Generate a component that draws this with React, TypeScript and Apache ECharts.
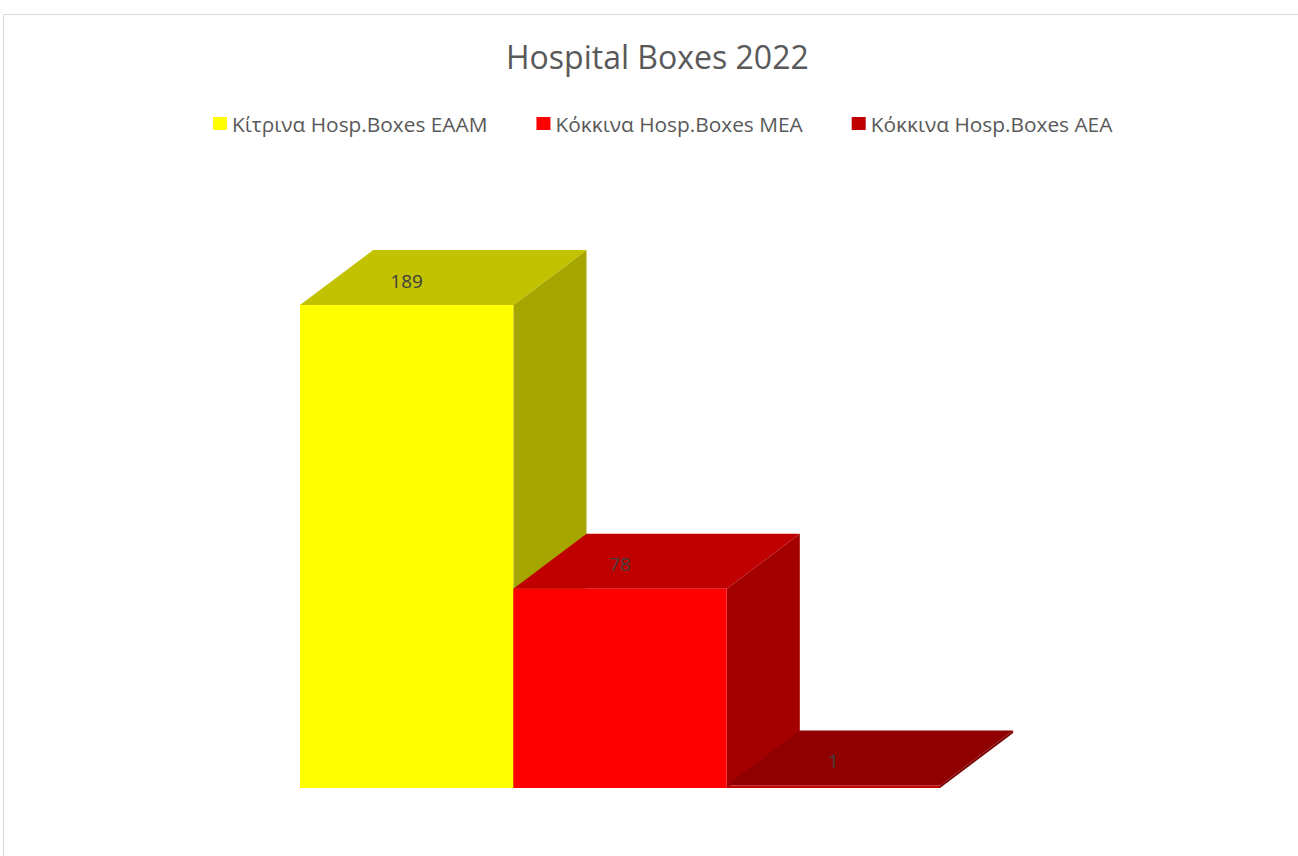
import React, { useEffect, useRef } from "react";
import * as echarts from "echarts";

const categories = ["Κίτρινα Hosp.Boxes EAAM", "Κόκκινα Hosp.Boxes MEA", "Κόκκινα Hosp.Boxes AEA"];
const values = [189, 78, 1];
const frontColors = ["#FFFF00", "#FF0000", "#C00000"];
const topColors = ["#C2C200", "#C00000", "#900000"];
const sideColors = ["#A6A600", "#A40000", "#7A0000"];
const titleText = "Hospital Boxes 2022";

const FONT = "'Open Sans', 'Noto Sans', sans-serif";

export default function App() {
  const ref = useRef<HTMLDivElement>(null);
  useEffect(() => {
    if (!ref.current) return;
    const chart = echarts.init(ref.current, null, { renderer: "svg" });
    const series = categories.map((name, i) => ({
      name,
      type: "custom",
      itemStyle: { color: frontColors[i] },
      encode: { x: 0, y: 1 },
      data: [[i, values[i]]],
      renderItem: (params: any, api: any) => {
        const x = api.value(0);
        const v = api.value(1);
        const top = api.coord([x, v]);
        const base = api.coord([x, 0]);
        const w = api.size([1, 0])[0];
        const x0 = top[0] - w / 2;
        const x1 = top[0] + w / 2;
        const yt = top[1];
        const yb = base[1];
        const dx = w * 0.343;
        const dy = -w * 0.258;
        return {
          type: "group",
          children: [
            {
              type: "polygon",
              shape: { points: [[x1, yt], [x1 + dx, yt + dy], [x1 + dx, yb + dy], [x1, yb]] },
              style: { fill: sideColors[i] },
            },
            {
              type: "polygon",
              shape: { points: [[x0, yt], [x0 + dx, yt + dy], [x1 + dx, yt + dy], [x1, yt]] },
              style: { fill: topColors[i] },
            },
            {
              type: "rect",
              shape: { x: x0, y: yt, width: w, height: yb - yt },
              style: { fill: frontColors[i] },
            },
            {
              type: "text",
              x: top[0],
              y: yt + dy / 2 + 3,
              style: {
                text: String(v),
                fill: "#404040",
                font: `19px ${FONT}`,
                align: "center",
                verticalAlign: "middle",
              },
            },
          ],
        };
      },
    }));
    chart.setOption({
      animation: false,
      backgroundColor: "#ffffff",
      title: {
        text: titleText,
        left: 506,
        top: 40,
        padding: 0,
        textStyle: { color: "#595959", fontSize: 32, fontWeight: "normal", fontFamily: FONT },
      },
      legend: {
        data: categories,
        left: 213,
        top: 113,
        padding: 0,
        icon: "rect",
        itemWidth: 14,
        itemHeight: 13,
        itemGap: 49,
        textStyle: { color: "#595959", fontSize: 20.85, fontFamily: FONT },
      },
      grid: { left: 300, right: 358, top: 277, bottom: 68, containLabel: false },
      xAxis: { type: "category", data: categories, show: false },
      yAxis: { type: "value", min: 0, max: 200, show: false },
      graphic: [
        {
          type: "rect",
          shape: { x: 3.5, y: 14.5, width: 1400, height: 900 },
          style: { fill: "none", stroke: "#d9d9d9", lineWidth: 1 },
          silent: true,
        },
      ],
      series,
    });
    return () => chart.dispose();
  }, []);
  return <div ref={ref} style={{ position: "fixed", left: 0, top: 0, width: 1298, height: 856 }} />;
}
